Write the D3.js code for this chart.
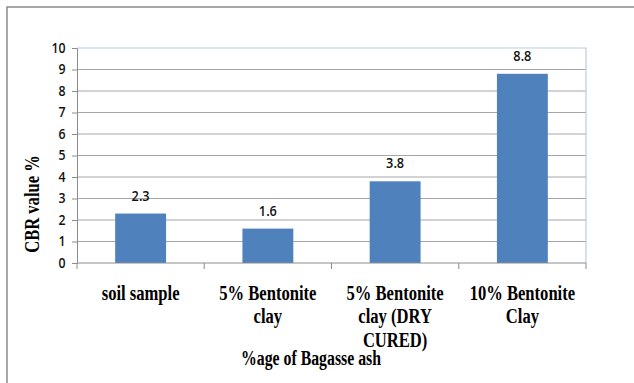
<!DOCTYPE html>
<html>
<head>
<meta charset="utf-8">
<script src="https://cdn.jsdelivr.net/npm/d3@7"></script>
<style>
  html, body { margin: 0; padding: 0; background: #fff; }
  svg { display: block; }
</style>
</head>
<body>
<script>
// CBR values by mix
const categories = [
  ["soil sample"],
  ["5% Bentonite", "clay"],
  ["5% Bentonite", "clay (DRY", "CURED)"],
  ["10% Bentonite", "Clay"]
];
const cbrValues = [2.3, 1.6, 3.8, 8.8];
const yTicks = [0, 1, 2, 3, 4, 5, 6, 7, 8, 9, 10];
const yTitle = "CBR value %";
const xTitle = "%age of Bagasse ash";

const W = 634, H = 383;
const plot = { left: 77, right: 586, top: 48, bottom: 263 };
const serif = "'Liberation Serif', 'Times New Roman', serif";
const sans = "'Open Sans', 'Liberation Sans', Arial, sans-serif";

const svg = d3.select("body").append("svg")
  .attr("width", W).attr("height", H);

svg.append("rect").attr("width", W).attr("height", H).attr("fill", "#fff");

// chart frame
svg.append("rect")
  .attr("x", 7).attr("y", 7)
  .attr("width", W + 20).attr("height", H + 20)
  .attr("fill", "none").attr("stroke", "#8a8a8a").attr("stroke-width", 1.5);

const x = d3.scaleBand()
  .domain(d3.range(categories.length))
  .range([plot.left, plot.right])
  .paddingInner(0.6).paddingOuter(0.3);

const xEdges = d3.scaleLinear()
  .domain([0, categories.length])
  .range([plot.left, plot.right]);

const y = d3.scaleLinear().domain([0, 10]).range([plot.bottom, plot.top]);

// horizontal gridlines
svg.append("g").selectAll("line")
  .data(yTicks.filter(t => t > 0 && t < 10))
  .join("line")
  .attr("x1", plot.left).attr("x2", plot.right)
  .attr("y1", d => y(d)).attr("y2", d => y(d))
  .attr("stroke", "#a6a6a6").attr("stroke-width", 1);

// plot area border (top and right)
svg.append("path")
  .attr("d", `M${plot.left},${y(10)}H${plot.right}V${plot.bottom}`)
  .attr("fill", "none").attr("stroke", "#b9cde5").attr("stroke-width", 1.2);

// bars
svg.append("g").selectAll("rect")
  .data(cbrValues)
  .join("rect")
  .attr("x", (d, i) => x(i))
  .attr("width", x.bandwidth())
  .attr("y", d => y(d))
  .attr("height", d => y(0) - y(d))
  .attr("fill", "#4f81bd");

// value labels
svg.append("g").selectAll("text")
  .data(cbrValues)
  .join("text")
  .attr("transform", (d, i) => `translate(${x(i) + x.bandwidth() / 2},${y(d) - 13}) scale(0.85,1)`)
  .attr("text-anchor", "middle")
  .attr("font-family", sans).attr("font-size", 15).attr("font-weight", 600)
  .attr("fill", "#111")
  .text(d => d.toFixed(1));

// y axis
const yAxis = svg.append("g")
  .attr("transform", `translate(${plot.left},0)`)
  .call(d3.axisLeft(y).tickValues(yTicks).tickSize(5).tickPadding(8).tickFormat(d3.format("d")));
yAxis.select(".domain").attr("stroke", "#8c8c8c");
yAxis.selectAll(".tick line").attr("stroke", "#8c8c8c");
yAxis.selectAll(".tick text")
  .attr("font-family", sans).attr("font-size", 14).attr("font-weight", 600).attr("fill", "#111")
  .attr("transform", "scale(0.88,1)");

// x axis with boundary ticks
svg.append("line")
  .attr("x1", plot.left).attr("x2", plot.right)
  .attr("y1", plot.bottom).attr("y2", plot.bottom)
  .attr("stroke", "#8c8c8c");
svg.append("g").selectAll("line")
  .data(d3.range(categories.length + 1))
  .join("line")
  .attr("x1", d => xEdges(d)).attr("x2", d => xEdges(d))
  .attr("y1", plot.bottom).attr("y2", plot.bottom + 6)
  .attr("stroke", "#8c8c8c");

// category labels
const catG = svg.append("g").selectAll("g")
  .data(categories)
  .join("g")
  .attr("transform", (d, i) => `translate(${x(i) + x.bandwidth() / 2},300) scale(0.83,1)`);
catG.selectAll("text")
  .data(d => d)
  .join("text")
  .attr("y", (d, j) => j * 23.5)
  .attr("text-anchor", "middle")
  .attr("font-family", serif).attr("font-size", 20).attr("font-weight", "bold")
  .attr("fill", "#000")
  .text(d => d);

// axis titles
svg.append("text")
  .attr("transform", `translate(311,365) scale(0.79,1)`)
  .attr("text-anchor", "middle")
  .attr("font-family", serif).attr("font-size", 20).attr("font-weight", "bold")
  .text(xTitle);

svg.append("text")
  .attr("transform", `translate(39,204) rotate(-90) scale(0.83,1)`)
  .attr("text-anchor", "middle")
  .attr("font-family", serif).attr("font-size", 20).attr("font-weight", "bold")
  .text(yTitle);
</script>
</body>
</html>
